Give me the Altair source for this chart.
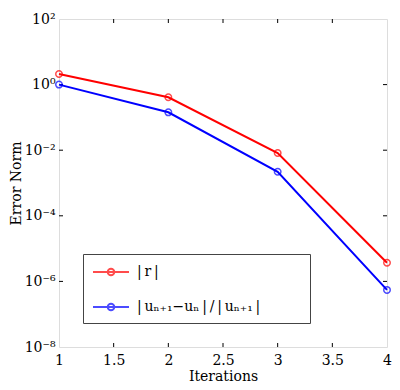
import altair as alt
import pandas as pd

iterations = [1, 2, 3, 4]
resid = [2.1, 0.41, 0.0082, 3.7e-6]
update = [1.0, 0.143, 0.0022, 5.5e-7]
series_names = ["|\u2009r\u2009|", "|\u2009u\u2099\u208A\u2081\u2212u\u2099\u2009|\u2009/\u2009|\u2009u\u2099\u208A\u2081\u2009|\u2003\u2003\u2009\u2800"]
series_colors = ["#ff0000", "#0000ff"]
x_ticks = [1, 1.5, 2, 2.5, 3, 3.5, 4]
y_ticks = [1e-8, 1e-6, 1e-4, 1e-2, 1, 1e2]
y_tick_labels = ["10\u207B\u2078", "10\u207B\u2076", "10\u207B\u2074", "10\u207B\u00B2", "10\u2070", "10\u00B2"]
x_inner_ticks = [1.5, 2, 2.5, 3, 3.5]
y_inner_ticks = [1e-6, 1e-4, 1e-2, 1]

W, H = 328, 328
FONT = "DejaVu Serif"

rows = []
for i, v in zip(iterations, resid):
    rows.append({"x": i, "y": v, "s": series_names[0]})
for i, v in zip(iterations, update):
    rows.append({"x": i, "y": v, "s": series_names[1]})
df = pd.DataFrame(rows)

label_arr = "[" + ",".join("'" + t + "'" for t in y_tick_labels) + "]"
y_label_expr = label_arr + "[round((log(datum.value)/LN10 + 8)/2)]"

xscale = alt.Scale(domain=[1, 4], nice=False, zero=False)
yscale = alt.Scale(type="log", domain=[1e-8, 1e2], nice=False)

xaxis = alt.Axis(values=x_ticks, format="~g", title="Iterations", grid=False,
                 domain=False, ticks=False, labelPadding=6, titlePadding=2,
                 labelFont=FONT, titleFont=FONT, labelFontSize=14, titleFontSize=14,
                 titleFontWeight="normal", labelColor="black", titleColor="black",
                 labelFlush=False)
yaxis = alt.Axis(values=y_ticks, labelExpr=y_label_expr, title="Error Norm", grid=False,
                 domain=False, ticks=False, labelPadding=4, titlePadding=1,
                 labelFont=FONT, titleFont=FONT, labelFontSize=14, titleFontSize=14,
                 titleFontWeight="normal", labelColor="black", titleColor="black",
                 labelFlush=False)

legend_path = ("M-2,0L2,0M0.36,0A0.36,0.36,0,1,1,-0.36,0A0.36,0.36,0,1,1,0.36,0")

color = alt.Color("s:N", scale=alt.Scale(domain=series_names, range=series_colors),
                  legend=alt.Legend(orient="none", legendX=24, legendY=235, title=None,
                                    strokeColor="#444", fillColor="white", padding=8,
                                    symbolType=legend_path, symbolSize=324,
                                    symbolStrokeWidth=2, symbolFillColor="transparent",
                                    symbolOffset=10, labelOffset=16, rowPadding=17,
                                    labelLimit=400,
                                    labelFont=FONT, labelFontSize=14, labelColor="black"))

base = alt.Chart(df)
lines = base.mark_line(strokeWidth=2).encode(
    x=alt.X("x:Q", scale=xscale, axis=xaxis),
    y=alt.Y("y:Q", scale=yscale, axis=yaxis),
    color=color,
)
points = base.mark_point(shape="circle", filled=False, size=42, strokeWidth=1.5).encode(
    x=alt.X("x:Q", scale=xscale, axis=xaxis),
    y=alt.Y("y:Q", scale=yscale, axis=yaxis),
    color=color,
)

xt = pd.DataFrame({"x": x_inner_ticks})
yt = pd.DataFrame({"y": y_inner_ticks})
tick_len = 4
xt_bottom = alt.Chart(xt).mark_rule(color="black", strokeWidth=1).encode(
    x=alt.X("x:Q", scale=xscale, axis=xaxis), y=alt.value(H - tick_len), y2=alt.value(H))
xt_top = alt.Chart(xt).mark_rule(color="black", strokeWidth=1).encode(
    x=alt.X("x:Q", scale=xscale, axis=xaxis), y=alt.value(0), y2=alt.value(tick_len))
yt_left = alt.Chart(yt).mark_rule(color="black", strokeWidth=1).encode(
    y=alt.Y("y:Q", scale=yscale, axis=yaxis), x=alt.value(0), x2=alt.value(tick_len))
yt_right = alt.Chart(yt).mark_rule(color="black", strokeWidth=1).encode(
    y=alt.Y("y:Q", scale=yscale, axis=yaxis), x=alt.value(W - tick_len), x2=alt.value(W))

chart = alt.layer(xt_bottom, xt_top, yt_left, yt_right, lines, points).properties(
    width=W, height=H,
    autosize=alt.AutoSizeParams(type="none"),
    padding={"left": 51, "top": 11, "right": 5, "bottom": 35},
).configure_view(stroke="black", strokeWidth=2).configure(background="white")

chart.save("out.html", embed_options={"renderer": "svg", "actions": False})
